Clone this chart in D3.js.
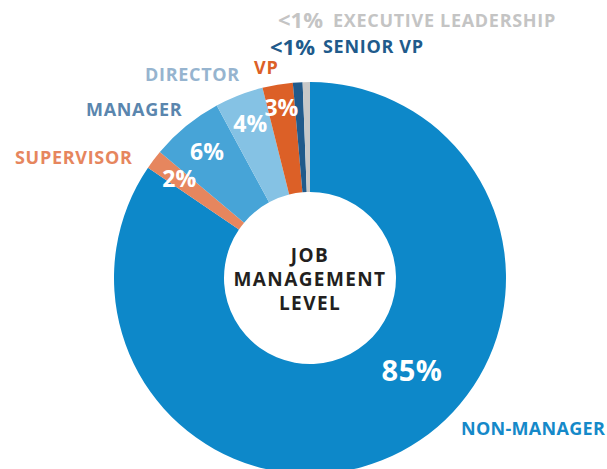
<!DOCTYPE html>
<html>
<head>
<meta charset="utf-8">
<script src="https://cdn.jsdelivr.net/npm/d3@7"></script>
<style>
  body { margin: 0; background: #fff; }
  text { font-family: "Open Sans", "DejaVu Sans", sans-serif; font-weight: 700; }
</style>
</head>
<body>
<script>
// Job management level shares, clockwise from 12 o'clock
let levels = ['NON-MANAGER', 'SUPERVISOR', 'MANAGER', 'DIRECTOR', 'VP', 'SENIOR VP', 'EXECUTIVE LEADERSHIP'];
let shares = [84.6, 1.6, 6.0, 4.0, 2.5, 0.8, 0.6];
let shareLabels = ['85%', '2%', '6%', '4%', '3%', '<1%', '<1%'];
let colors = ['#0d88c9', '#e6865e', '#47a4d7', '#85c2e4', '#dc6027', '#205a8b', '#c8c8c8'];
let nameColors = ['#1589c9', '#e6865e', '#5a86ae', '#96b4cf', '#dc6027', '#205a8b', '#c4c4c4'];
let centerTitle = ['JOB', 'MANAGEMENT', 'LEVEL'];

let width = 607, height = 469;
let cx = 310, cy = 278;
let outerR = 196, innerR = 86;

let svg = d3.select('body').append('svg')
  .attr('width', width)
  .attr('height', height);

let g = svg.append('g')
  .attr('transform', 'translate(' + cx + ',' + cy + ')');

let pie = d3.pie().sort(null).value(d => d);
let arcs = pie(shares);

let arc = d3.arc().innerRadius(innerR).outerRadius(outerR);

g.selectAll('path.slice')
  .data(arcs)
  .enter().append('path')
  .attr('class', 'slice')
  .attr('d', arc)
  .attr('fill', (d, i) => colors[i]);

// percentage labels inside the ring (the two <1% go outside, next to their names)
let labelRadius = [138, 164, 163, 165, 173];

arcs.forEach(function(d, i) {
  if (i >= 5) return;
  let a = (d.startAngle + d.endAngle) / 2;
  if (i === 0) a = d.startAngle + (d.endAngle - d.startAngle) * 0.435;   //big slice label sits lower right
  let pos = d3.arc().innerRadius(labelRadius[i]).outerRadius(labelRadius[i])
    .centroid({ startAngle: a, endAngle: a });
  g.append('text')
    .attr('x', pos[0])
    .attr('y', pos[1])
    .attr('dy', '0.36em')
    .attr('text-anchor', 'middle')
    .attr('fill', '#fff')
    .style('font-size', i === 0 ? '29px' : '23px')
    .style('letter-spacing', i === 0 ? '0.5px' : '0px')
    .text(shareLabels[i]);
});

// category names around the ring
let nameSpots = [
  { x: 461, y: 435, ls: 0.3 },
  { x: 15, y: 163.5, ls: 0.7 },
  { x: 86, y: 116, ls: 0.7 },
  { x: 145, y: 81, ls: 0.7 },
  { x: 254, y: 74, ls: 0.7 },
  { x: 323, y: 53, ls: 0.7 },
  { x: 333, y: 26.5, ls: 0.7 }
];

levels.forEach(function(name, i) {
  svg.append('text')
    .attr('x', nameSpots[i].x)
    .attr('y', nameSpots[i].y)
    .attr('fill', nameColors[i])
    .style('font-size', '18px')
    .style('letter-spacing', nameSpots[i].ls + 'px')
    .text(name);
});

// the <1% labels next to senior vp / executive
let smallSpots = [
  { i: 5, x: 270, y: 55 },
  { i: 6, x: 278, y: 28 }
];
smallSpots.forEach(function(s) {
  svg.append('text')
    .attr('x', s.x)
    .attr('y', s.y)
    .attr('fill', nameColors[s.i])
    .style('font-size', '22px')
    .text(shareLabels[s.i]);
});

// title in the hole
g.selectAll('text.title')
  .data(centerTitle)
  .enter().append('text')
  .attr('class', 'title')
  .attr('x', 0)
  .attr('y', (d, i) => -16 + i * 23.8)
  .attr('text-anchor', 'middle')
  .attr('fill', '#231f20')
  .style('font-size', '19px')
  .style('letter-spacing', '1.4px')
  .text(d => d);
</script>
</body>
</html>
